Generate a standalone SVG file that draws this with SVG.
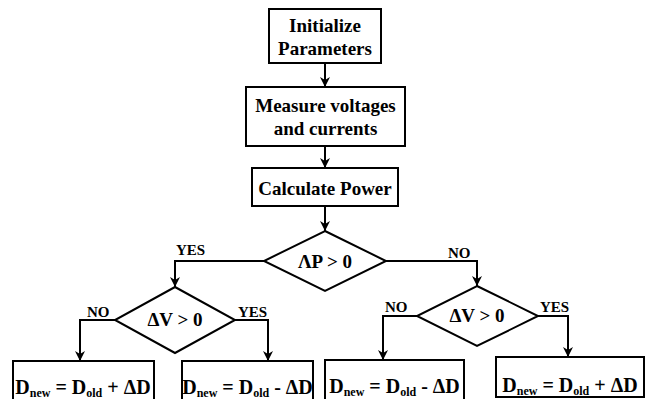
<svg xmlns="http://www.w3.org/2000/svg" width="652" height="399" viewBox="0 0 652 399">
<defs>
<marker id="ah" viewBox="-11 -6 12 12" markerWidth="12" markerHeight="12" refX="0" refY="0" orient="auto" markerUnits="userSpaceOnUse">
<path d="M0,0 L-10,-5 L-7,0 L-10,5 Z" fill="#000"/>
</marker>
<style>
rect,polygon{fill:#fff;stroke:#000;stroke-width:2}
.c path{fill:none;stroke:#000;stroke-width:2}
text{font-family:"Liberation Serif","Times New Roman",Times,Tinos,"Nimbus Roman","FreeSerif","DejaVu Serif",serif;font-weight:bold;fill:#000}
.t{font-size:19px;text-anchor:middle}
.f{font-size:20px;text-anchor:middle}
.s{font-size:12px}
.l{font-size:15px}
</style>
</defs>
<rect width="652" height="399" fill="#fff" style="stroke:none"/>
<g class="c" id="connectors">
<path d="M325,63 V87" marker-end="url(#ah)"/>
<path d="M325,146 V168" marker-end="url(#ah)"/>
<path d="M325,206 V231" marker-end="url(#ah)"/>
<path d="M264,261 H175 V287" marker-end="url(#ah)"/>
<path d="M386,261 H477 V286" marker-end="url(#ah)"/>
<path d="M115,320 H80 V361" marker-end="url(#ah)"/>
<path d="M235,320 H268 V361" marker-end="url(#ah)"/>
<path d="M417,316 H383 V360" marker-end="url(#ah)"/>
<path d="M538,316 H568 V357" marker-end="url(#ah)"/>
<text class="l" x="176" y="255">YES</text>
<text class="l" x="448" y="258">NO</text>
<text class="l" x="87" y="317">NO</text>
<text class="l" x="238" y="317">YES</text>
<text class="l" x="385" y="312">NO</text>
<text class="l" x="540" y="312">YES</text>
</g>
<g id="init">
<rect x="269" y="9" width="112" height="54"/>
<text class="t" x="325" y="32">Initialize</text>
<text class="t" x="325" y="55">Parameters</text>
</g>
<g id="measure">
<rect x="246" y="87" width="159" height="59"/>
<text class="t" x="325.5" y="112">Measure voltages</text>
<text class="t" x="325.5" y="135">and currents</text>
</g>
<g id="calc">
<rect x="252" y="168" width="146" height="38"/>
<text class="t" x="325" y="195">Calculate Power</text>
</g>
<g id="dp">
<polygon points="325,231 386,261 325,291 264,261"/>
<text class="t" x="325" y="268">ΛP &gt; 0</text>
</g>
<g id="dv1">
<polygon points="175,287 235,320 175,353 115,320"/>
<text class="t" x="175" y="326">ΔV &gt; 0</text>
</g>
<g id="dv2">
<polygon points="477,286 538,316 477,346 417,316"/>
<text class="t" x="477" y="322">ΔV &gt; 0</text>
</g>
<g id="b1">
<rect x="13" y="361" width="141" height="42"/>
<text class="f" x="83" y="394">D<tspan class="s" dy="3">new</tspan><tspan dy="-3"> = D</tspan><tspan class="s" dy="3">old</tspan><tspan dy="-3"> + ΔD</tspan></text>
</g>
<g id="b2">
<rect x="182" y="361" width="131" height="42"/>
<text class="f" x="247.5" y="394">D<tspan class="s" dy="3">new</tspan><tspan dy="-3"> = D</tspan><tspan class="s" dy="3">old</tspan><tspan dy="-3"> - ΔD</tspan></text>
</g>
<g id="b3">
<rect x="325" y="360" width="139" height="43"/>
<text class="f" x="394.5" y="393">D<tspan class="s" dy="3">new</tspan><tspan dy="-3"> = D</tspan><tspan class="s" dy="3">old</tspan><tspan dy="-3"> - ΔD</tspan></text>
</g>
<g id="b4">
<rect x="496" y="357" width="148" height="40"/>
<text class="f" x="570" y="392">D<tspan class="s" dy="3">new</tspan><tspan dy="-3"> = D</tspan><tspan class="s" dy="3">old</tspan><tspan dy="-3"> + ΔD</tspan></text>
</g>
</svg>
